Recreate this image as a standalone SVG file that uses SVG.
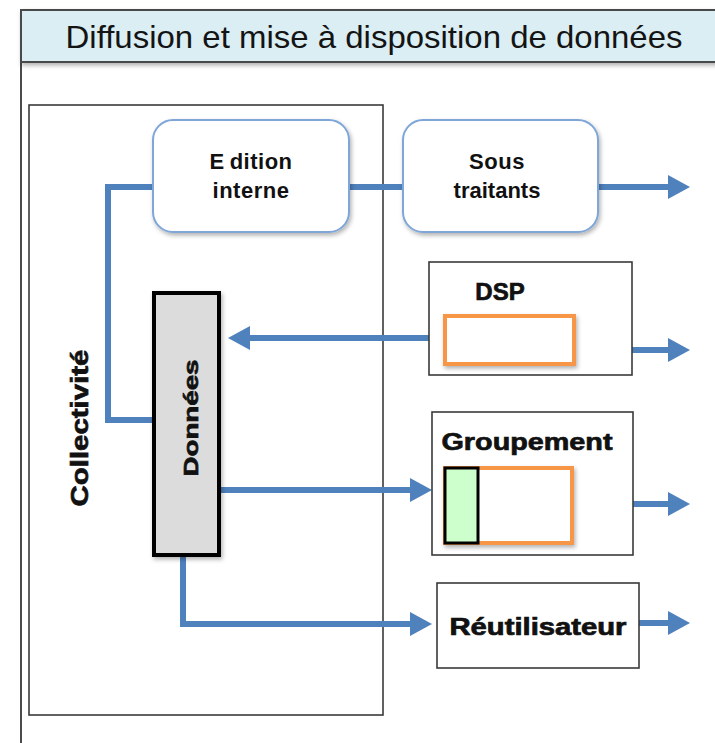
<svg xmlns="http://www.w3.org/2000/svg" width="715" height="743" viewBox="0 0 715 743">
  <style>
    .frame { fill: none; stroke: #4a4a4a; stroke-width: 2; }
    .box { fill: #ffffff; stroke: #3a3a3a; stroke-width: 1.6; }
    .rounded { fill: #ffffff; stroke: #7ea6d8; stroke-width: 2; }
    .inner { fill: #ffffff; stroke: #f79646; stroke-width: 4; }
    .flow { fill: none; stroke: #4f81bd; stroke-width: 6; stroke-linejoin: miter; }
    .arrow { marker-end: url(#head); }
    .title { font-family: "Liberation Sans", Arial, sans-serif; font-size: 32px; fill: #141414; }
    .label { font-family: "Liberation Sans", Arial, sans-serif; font-weight: bold; fill: #111; }
    .heavy { stroke: #111; stroke-width: 0.7; }
  </style>
  <defs>
    <marker id="head" markerUnits="userSpaceOnUse" viewBox="0 0 22 24" markerWidth="22" markerHeight="24" refX="10" refY="12" orient="auto">
      <path d="M0,0 L22,12 L0,24 z" fill="#4f81bd"/>
    </marker>
    <filter id="shadow" x="-20%" y="-20%" width="140%" height="140%">
      <feDropShadow dx="1.5" dy="2.5" stdDeviation="2" flood-color="#000" flood-opacity="0.3"/>
    </filter>
  </defs>

  <rect width="715" height="743" fill="#ffffff"/>

  <!-- page frame and title band -->
  <g id="header">
    <line x1="21" y1="10" x2="21" y2="743" class="frame"/>
    <rect x="21" y="10" width="700" height="52" fill="#dbeef4" stroke="#4a4a4a" stroke-width="2" filter="url(#shadow)"/>
    <text x="374" y="48" class="title" text-anchor="middle" textLength="617" lengthAdjust="spacingAndGlyphs">Diffusion et mise à disposition de données</text>
  </g>

  <!-- Collectivité container -->
  <g id="collectivite">
    <rect x="29" y="105" width="354" height="610" class="box"/>
    <text transform="translate(80,428) rotate(-90)" class="label heavy" font-size="23" text-anchor="middle" dominant-baseline="central" textLength="157" lengthAdjust="spacingAndGlyphs">Collectivité</text>
  </g>

  <!-- connectors -->
  <g id="connectors">
    <path d="M349,187 H403" class="flow"/>
    <path d="M598,187 H678" class="flow arrow"/>
    <path d="M153,187 H108 V420 H153" class="flow"/>
    <path d="M443,338 H240" class="flow arrow"/>
    <path d="M632,350 H678" class="flow arrow"/>
    <path d="M220,490 H420" class="flow arrow"/>
    <path d="M633,504 H678" class="flow arrow"/>
    <path d="M183,557 V624 H420" class="flow arrow"/>
    <path d="M639,623 H678" class="flow arrow"/>
  </g>

  <g id="edition-interne">
    <rect x="153" y="120" width="196" height="112" rx="20" class="rounded" filter="url(#shadow)"/>
    <text x="251" y="169" class="label" font-size="22" text-anchor="middle" letter-spacing="0.5">E<tspan dx="5">dition</tspan></text>
    <text x="251" y="198" class="label" font-size="22" text-anchor="middle" letter-spacing="0.5">interne</text>
  </g>

  <g id="sous-traitants">
    <rect x="403" y="120" width="195" height="112" rx="20" class="rounded" filter="url(#shadow)"/>
    <text x="497" y="169" class="label" font-size="22" text-anchor="middle" letter-spacing="0.5">Sous</text>
    <text x="497" y="198" class="label" font-size="22" text-anchor="middle">traitants</text>
  </g>

  <g id="donnees">
    <rect x="154" y="293" width="65" height="262" fill="#dcdcdc" stroke="#000" stroke-width="4" filter="url(#shadow)"/>
    <text transform="translate(190,418) rotate(-90)" class="label heavy" font-size="21" text-anchor="middle" dominant-baseline="central" textLength="117" lengthAdjust="spacingAndGlyphs">Données</text>
  </g>

  <g id="dsp">
    <rect x="429" y="262" width="203" height="113" class="box"/>
    <text x="500" y="300" class="label heavy" font-size="24" text-anchor="middle">DSP</text>
    <rect x="445" y="316" width="129" height="48" class="inner" filter="url(#shadow)"/>
  </g>

  <g id="groupement">
    <rect x="432" y="412" width="201" height="143" class="box"/>
    <text x="527" y="450" class="label heavy" font-size="24" text-anchor="middle" textLength="171" lengthAdjust="spacingAndGlyphs">Groupement</text>
    <rect x="445" y="468" width="127" height="75" class="inner" filter="url(#shadow)"/>
    <rect x="445" y="468" width="33" height="75" fill="#ccffcc" stroke="#000" stroke-width="3"/>
  </g>

  <g id="reutilisateur">
    <rect x="437" y="583" width="202" height="85" class="box"/>
    <text x="538" y="635" class="label heavy" font-size="23" text-anchor="middle" textLength="177" lengthAdjust="spacingAndGlyphs">Réutilisateur</text>
  </g>
</svg>
